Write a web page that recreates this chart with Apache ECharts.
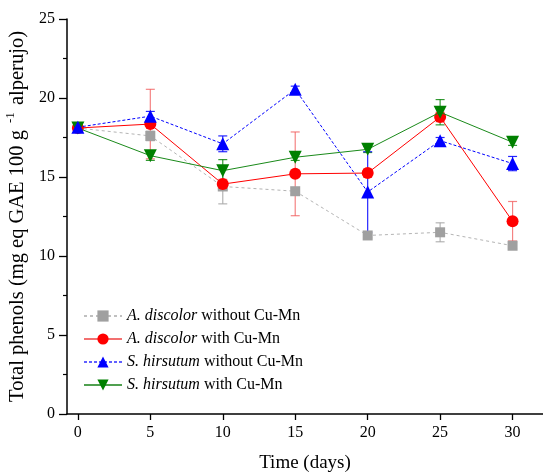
<!DOCTYPE html>
<html><head><meta charset="utf-8">
<script src="https://cdn.jsdelivr.net/npm/echarts@6/dist/echarts.min.js"></script>
<style>html,body{margin:0;padding:0;background:#fff}#c{width:543px;height:475px}</style>
</head><body><div id="c"></div>
<script>
const days = [0, 5, 10, 15, 20, 25, 30];
const xTicks = [0, 5, 10, 15, 20, 25, 30];
const seriesNames = ['A. discolor without Cu-Mn', 'A. discolor with Cu-Mn', 'S. hirsutum without Cu-Mn', 'S. hirsutum with Cu-Mn'];
const adWithout = [18.1, 17.6, 14.4, 14.1, 11.3, 11.5, 10.65];
const adWithoutErr = [0.1, 0.3, 1.1, 0.2, 0.15, 0.6, 0.2];
const adWith = [18.1, 18.35, 14.55, 15.2, 15.25, 18.8, 12.2];
const adWithErr = [0.1, 2.2, 0.3, 2.65, 0.25, 0.3, 1.25];
const shWithout = [18.15, 18.85, 17.1, 20.55, 14.05, 17.3, 15.85];
const shWithoutErr = [0.1, 0.3, 0.5, 0.2, 2.55, 0.2, 0.45];
const shWith = [18.1, 16.35, 15.4, 16.25, 16.75, 19.1, 17.2];
const shWithErr = [0.1, 0.3, 0.7, 0.2, 0.2, 0.8, 0.2];

const serif = '"Liberation Serif", "Times New Roman", serif';

function pairs(vals) { return days.map((d, i) => [d, vals[i]]); }
function errData(vals, errs) { return days.map((d, i) => [d, vals[i] - errs[i], vals[i] + errs[i]]); }
function errSeries(vals, errs, color) {
  return {
    type: 'custom', silent: true, z: 1,
    data: errData(vals, errs),
    renderItem: function (params, api) {
      const lo = api.coord([api.value(0), api.value(1)]);
      const hi = api.coord([api.value(0), api.value(2)]);
      const w = 4.5;
      const st = { stroke: color, lineWidth: 1.2 };
      return { type: 'group', children: [
        { type: 'line', shape: { x1: lo[0], y1: lo[1], x2: hi[0], y2: hi[1] }, style: st },
        { type: 'line', shape: { x1: lo[0] - w, y1: lo[1], x2: lo[0] + w, y2: lo[1] }, style: st },
        { type: 'line', shape: { x1: hi[0] - w, y1: hi[1], x2: hi[0] + w, y2: hi[1] }, style: st }
      ]};
    }
  };
}

const chart = echarts.init(document.getElementById('c'), null, { renderer: 'canvas' });
chart.setOption({
  animation: false,
  backgroundColor: '#fff',
  grid: { left: 67, right: 0, top: 19, bottom: 61, outerBoundsMode: 'none', containLabel: false },
  xAxis: {
    type: 'value', min: -0.75, max: 32.1,
    name: 'Time (days)', nameLocation: 'middle', nameGap: 40,
    nameTextStyle: { fontFamily: serif, fontSize: 19, color: '#000' },
    axisLine: { show: true, onZero: false, lineStyle: { color: '#000', width: 1.5 } },
    axisTick: { show: true, inside: false, length: 6, customValues: xTicks, lineStyle: { color: '#000', width: 1.3 } },
    axisLabel: { customValues: xTicks, fontFamily: serif, fontSize: 16, color: '#000', margin: 11 },
    splitLine: { show: false }
  },
  yAxis: {
    type: 'value', min: 0, max: 25, interval: 5,
    name: '{a|Total phenols (mg eq GAE 100 g }{s|-1}{a| alperujo)}',
    nameLocation: 'middle', nameGap: 33,
    nameTextStyle: {
      rich: {
        a: { fontFamily: serif, fontSize: 20.5, color: '#000', lineHeight: 24, verticalAlign: 'bottom' },
        s: { fontFamily: serif, fontSize: 13, color: '#000', lineHeight: 24, verticalAlign: 'top', padding: [0, 2, 0, 2] }
      }
    },
    axisLine: { show: true, onZero: false, lineStyle: { color: '#000', width: 1.5 } },
    axisTick: { show: true, inside: false, length: 8, lineStyle: { color: '#000', width: 1.3 } },
    minorTick: { show: true, splitNumber: 2, length: 4, lineStyle: { color: '#000', width: 1.2 } },
    axisLabel: { fontFamily: serif, fontSize: 16, color: '#000', margin: 12 },
    splitLine: { show: false }
  },
  legend: {
    orient: 'vertical', left: 78, top: 303, itemWidth: 38, itemHeight: 14, itemGap: 7,
    data: [
      { name: seriesNames[0], lineStyle: { color: '#c0c0c0' } },
      { name: seriesNames[1], lineStyle: { color: '#f27070' } },
      { name: seriesNames[2], lineStyle: { color: '#6060ff' } },
      { name: seriesNames[3], lineStyle: { color: '#50a050' } }
    ],
    formatter: function (name) {
      const parts = name.split(' ');
      return '{i|' + parts[0] + ' ' + parts[1] + '} ' + parts.slice(2).join(' ');
    },
    textStyle: {
      fontFamily: serif, fontSize: 16, color: '#000', lineHeight: 16,
      rich: { i: { fontFamily: serif, fontSize: 16, fontStyle: 'italic', color: '#000', lineHeight: 16 } }
    }
  },
  series: [
    errSeries(adWithout, adWithoutErr, 'rgba(160,160,160,0.8)'),
    errSeries(adWith, adWithErr, 'rgba(240,90,90,0.75)'),
    errSeries(shWith, shWithErr, 'rgba(0,128,0,0.8)'),
    errSeries(shWithout, shWithoutErr, 'rgba(0,0,255,0.85)'),
    { name: seriesNames[0], type: 'line', data: pairs(adWithout), symbol: 'rect', symbolSize: 10, z: 3,
      itemStyle: { color: '#a0a0a0' }, lineStyle: { color: '#b4b4b4', width: 1, type: [3, 3] } },
    { name: seriesNames[1], type: 'line', data: pairs(adWith), symbol: 'circle', symbolSize: 12, z: 4,
      itemStyle: { color: '#ff0000' }, lineStyle: { color: '#ff0000', width: 1 } },
    { name: seriesNames[3], type: 'line', data: pairs(shWith), symbol: 'triangle', symbolRotate: 180, symbolSize: 13, z: 5,
      itemStyle: { color: '#008000' }, lineStyle: { color: '#1a8a1a', width: 1 } },
    { name: seriesNames[2], type: 'line', data: pairs(shWithout), symbol: 'triangle', symbolSize: 13, z: 6,
      itemStyle: { color: '#0000ff' }, lineStyle: { color: '#0000ff', width: 1, type: [3, 2] } }
  ]
});
</script>
</body></html>
